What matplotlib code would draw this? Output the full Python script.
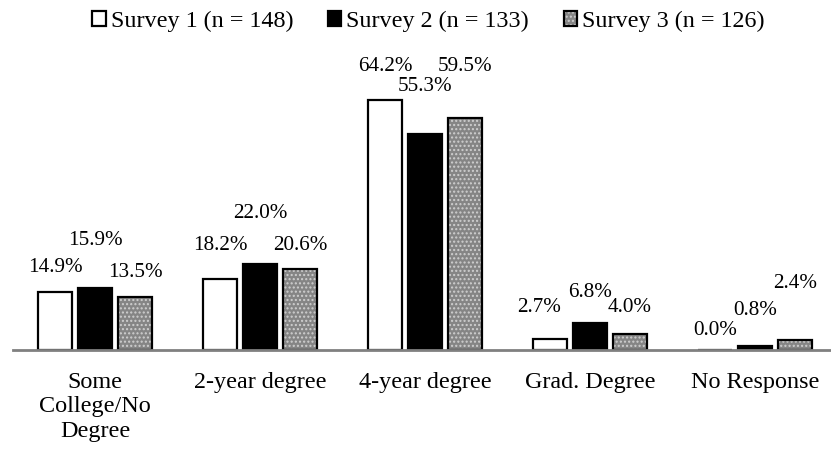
import matplotlib
matplotlib.use("Agg")
import matplotlib.pyplot as plt
import numpy as np
from matplotlib.legend_handler import HandlerTuple

plt.rcParams['font.family'] = ['Liberation Serif', 'DejaVu Serif']

categories = ['Some\nCollege/No\nDegree', '2-year degree', '4-year degree',
              'Grad. Degree', 'No Response']
series = ['Survey 1 (n = 148)', 'Survey 2 (n = 133)', 'Survey 3 (n = 126)']
survey1 = [14.9, 18.2, 64.2, 2.7, 0.0]
survey2 = [15.9, 22.0, 55.3, 6.8, 0.8]
survey3 = [13.5, 20.6, 59.5, 4.0, 2.4]

# where each value label sits (data units) and small sideways nudges
label_y = [[21.0, 26.7, 72.8, 10.7, 4.9],
           [27.9, 35.0, 67.6, 14.6, 10.0],
           [19.7, 26.7, 72.8, 10.7, 16.9]]
label_dx = [[0, 0, 0, -0.064, 0],
            [0, 0, 0, 0, 0],
            [0, 0, 0, 0, 0]]

W, H = 831, 449
fig = plt.figure(figsize=(W / 100, H / 100), dpi=100)
ax = fig.add_axes([12.5 / W, 99.5 / H, 825 / W, 272.3 / H])

x = np.arange(len(categories))
step = 0.2424
width = 0.206
values = [survey1, survey2, survey3]

b1 = ax.bar(x - step, survey1, width, color='white', edgecolor='black', linewidth=1.6)
b2 = ax.bar(x, survey2, width, color='black', edgecolor='black', linewidth=1.6)
# dotted grey fill, then a separate black outline on top
b3f = ax.bar(x + step, survey3, width, color='#858585', edgecolor='#cfcfcf',
             hatch='....', linewidth=0)
b3e = ax.bar(x + step, survey3, width, fill=False, edgecolor='black', linewidth=1.6)

for s, vals in enumerate(values):
    for i, v in enumerate(vals):
        ax.text(x[i] + (s - 1) * step + label_dx[s][i], label_y[s][i], f'{v:.1f}%',
                ha='center', va='center', fontsize=15.2, clip_on=False)

ax.set_xlim(-0.5, 4.5)
ax.set_ylim(0, 70)
ax.set_yticks([])
ax.set_xticks(x)
ax.set_xticklabels(categories, fontsize=17.4, linespacing=1.22)
ax.tick_params(axis='x', length=0, pad=16)
for side in ['top', 'right', 'left']:
    ax.spines[side].set_visible(False)
ax.spines['bottom'].set_color('#808080')
ax.spines['bottom'].set_linewidth(2)

fig.legend([b1[0], b2[0], (b3f[0], b3e[0])], series,
           handler_map={tuple: HandlerTuple(ndivide=1)},
           loc='center', bbox_to_anchor=(428.5 / W, 1 - 21.5 / H), ncol=3,
           frameon=False, fontsize=17.4, handlelength=0.55, handleheight=0.55,
           handletextpad=0.2, columnspacing=1.45, borderpad=0, borderaxespad=0)

fig.savefig('out.png', dpi=100)
